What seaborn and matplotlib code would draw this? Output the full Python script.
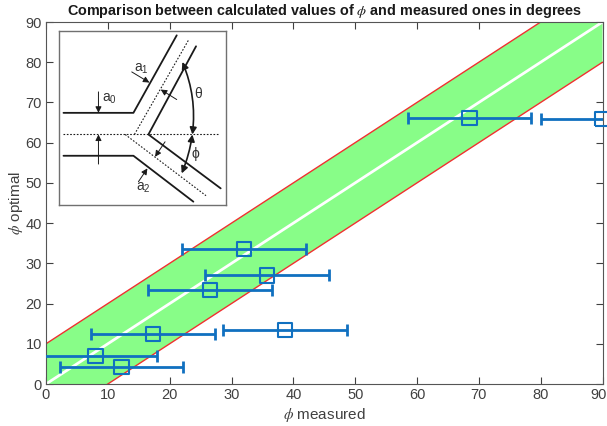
import numpy as np
import pandas as pd
import seaborn as sns
import matplotlib.pyplot as plt
from matplotlib.transforms import ScaledTranslation

# measured vs optimal angles, degrees
phi_measured = [12.2, 8.0, 17.3, 38.7, 26.5, 35.7, 32.0, 68.5, 90.0]
phi_optimal = [4.3, 7.0, 12.5, 13.5, 23.3, 27.0, 33.5, 66.2, 65.8]
phi_error = [10, 10, 10, 10, 10, 10, 10, 10, 10]
band_x = [0, 90]
band_centre = [0, 90]
band_lower = [-10, 80]
band_upper = [10, 100]
ticks = [0, 10, 20, 30, 40, 50, 60, 70, 80, 90]

# inset sketch of the channel, traced in its own coordinates
wall_upper = [(70, 338), (280, 338), (410, 105)]
wall_lower = [(70, 467), (280, 467), (460, 605)]
wall_inner = [(468, 138), (325, 403), (542, 565)]
dot_centre = [(70, 403), (535, 403)]
dot_up = [(283, 403), (445, 120)]
dot_down = [(255, 403), (498, 587)]
arrows = [((275, 215), (328, 247)), ((410, 298), (362, 268)),
          ((175, 275), (175, 338)), ((175, 492), (175, 403)),
          ((295, 545), (322, 505)), ((375, 425), (345, 470))]
labels = [(303, 205, 'a$\\mathregular{_1}$'), (207, 297, 'a$\\mathregular{_0}$'),
          (311, 563, 'a$\\mathregular{_2}$'), (475, 282, '\u03b8'), (467, 463, '\u03d5')]

sns.set_style('white')
plt.rcParams['font.family'] = ['Liberation Sans', 'DejaVu Sans']
plt.rcParams['mathtext.fontset'] = 'stix'
plt.rcParams['axes.edgecolor'] = '#555555'
plt.rcParams['text.color'] = '#262626'
plt.rcParams['axes.labelcolor'] = '#404040'
plt.rcParams['xtick.color'] = '#404040'
plt.rcParams['ytick.color'] = '#404040'

W, H = 607, 426
fig = plt.figure(figsize=(W / 100, H / 100), dpi=100)
ax = fig.add_axes([46 / W, 1 - 384 / H, 556.5 / W, 362 / H])

# green band
ax.fill_between(band_x, band_lower, band_upper, color='#88fd88', lw=0, zorder=1)
lines = pd.DataFrame({'x': band_x, 'mid': band_centre, 'low': band_lower, 'up': band_upper})
sns.lineplot(data=lines, x='x', y='low', color='#f03030', lw=1, ax=ax, zorder=2)
sns.lineplot(data=lines, x='x', y='up', color='#f03030', lw=1, ax=ax, zorder=2)
sns.lineplot(data=lines, x='x', y='mid', color='white', lw=2, ax=ax, zorder=2)

# points with horizontal error bars
ax.errorbar(phi_measured, phi_optimal, xerr=phi_error, fmt='none', ecolor='#1070c0',
            elinewidth=2, capsize=4, capthick=2, zorder=3)
sns.scatterplot(x=phi_measured, y=phi_optimal, marker='s', s=105, facecolor='none',
                edgecolor='#1070c0', linewidth=1.5, ax=ax, zorder=4, clip_on=False)

ax.set_xlim(0, 90)
ax.set_ylim(0, 90)
ax.set_xticks(ticks)
ax.set_yticks(ticks)
ax.tick_params(direction='in', length=5, width=0.8, top=True, right=True,
               bottom=True, left=True, labelsize=10.5, pad=3)
# last tick label sits right against the figure edge, keep it whole
last = ax.get_xticklabels()[-1]
last.set_ha('right')
last.set_transform(last.get_transform() + ScaledTranslation(4 / 100, 0, fig.dpi_scale_trans))
for s in ax.spines.values():
    s.set_visible(True)
    s.set_linewidth(0.8)
ax.set_xlabel('$\\phi$ measured', fontsize=11, labelpad=3)
ax.set_ylabel('$\\phi$ optimal', fontsize=11, labelpad=0)
ax.set_title('Comparison between calculated values of $\\phi$ and measured ones in degrees',
             fontsize=10.4, fontweight='bold', color='#1a1a1a', pad=5)

# inset diagram
inset = fig.add_axes([58.5 / W, 1 - 205 / H, 167.5 / W, 174 / H])
inset.set_xlim(55, 558)
inset.set_ylim(615, 92)
inset.set_xticks([])
inset.set_yticks([])
for s in inset.spines.values():
    s.set_visible(True)
    s.set_color('#707070')
    s.set_linewidth(1)

for wall in (wall_upper, wall_lower, wall_inner):
    xs, ys = zip(*wall)
    inset.plot(xs, ys, color='#1a1a1a', lw=1.3)
for dot in (dot_centre, dot_up, dot_down):
    xs, ys = zip(*dot)
    inset.plot(xs, ys, color='#1a1a1a', lw=0.8, ls=(0, (1.5, 1.5)))
for start, end in arrows:
    inset.annotate('', xy=end, xytext=start,
                   arrowprops=dict(arrowstyle='-|>', color='#1a1a1a', lw=0.7,
                                   mutation_scale=9, shrinkA=0, shrinkB=0))
inset.annotate('', xy=(457, 403), xytext=(427, 185),
               arrowprops=dict(arrowstyle='<|-|>', color='#1a1a1a', lw=1.2, mutation_scale=10,
                               shrinkA=0, shrinkB=0, connectionstyle='arc3,rad=-0.13'))
inset.annotate('', xy=(425, 520), xytext=(457, 403),
               arrowprops=dict(arrowstyle='<|-|>', color='#1a1a1a', lw=1.2, mutation_scale=10,
                               shrinkA=0, shrinkB=0, connectionstyle='arc3,rad=-0.06'))
for x, y, t in labels:
    inset.text(x, y, t, fontsize=10, ha='center', va='center', color='#333333')

fig.savefig('out.png', dpi=100)
